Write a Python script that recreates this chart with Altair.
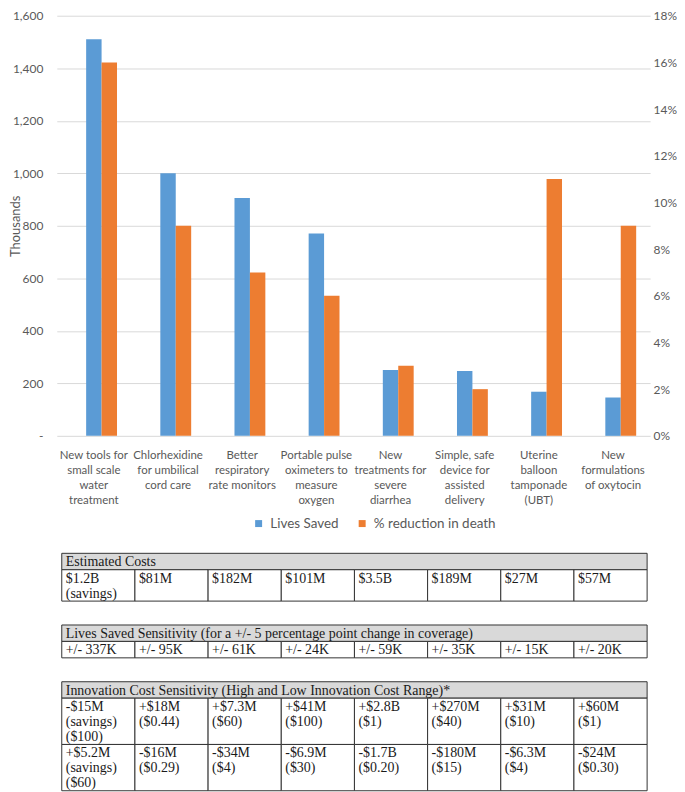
import altair as alt
import pandas as pd

# ---------------- data ----------------
categories = [
    "New tools for\nsmall scale\nwater\ntreatment",
    "Chlorhexidine\nfor umbilical\ncord care",
    "Better\nrespiratory\nrate monitors",
    "Portable pulse\noximeters to\nmeasure\noxygen",
    "New\ntreatments for\nsevere\ndiarrhea",
    "Simple, safe\ndevice for\nassisted\ndelivery",
    "Uterine\nballoon\ntamponade\n(UBT)",
    "New\nformulations\nof oxytocin",
]
lives_saved = [1510, 1000, 906, 771, 251, 247, 168, 146]          # thousands
pct_reduction = [0.16, 0.09, 0.07, 0.06, 0.03, 0.02, 0.11, 0.09]  # fraction
series_names = ["Lives Saved", "% reduction in death"]
left_ticks = [0, 200, 400, 600, 800, 1000, 1200, 1400, 1600]
right_ticks = [0, 0.02, 0.04, 0.06, 0.08, 0.10, 0.12, 0.14, 0.16, 0.18]

cost_header = "Estimated Costs"
cost_row = ["$1.2B\n(savings)", "$81M", "$182M", "$101M", "$3.5B", "$189M", "$27M", "$57M"]

sens_header = "Lives Saved Sensitivity (for a +/- 5 percentage point change in coverage)"
sens_row = ["+/- 337K", "+/- 95K", "+/- 61K", "+/- 24K", "+/- 59K", "+/- 35K", "+/- 15K", "+/- 20K"]

innov_header = "Innovation Cost Sensitivity (High and Low Innovation Cost Range)*"
innov_high = ["-$15M\n(savings)\n($100)", "+$18M\n($0.44)", "+$7.3M\n($60)", "+$41M\n($100)",
              "+$2.8B\n($1)", "+$270M\n($40)", "+$31M\n($10)", "+$60M\n($1)"]
innov_low = ["+$5.2M\n(savings)\n($60)", "-$16M\n($0.29)", "-$34M\n($4)", "-$6.9M\n($30)",
             "-$1.7B\n($0.20)", "-$180M\n($15)", "-$6.3M\n($4)", "-$24M\n($0.30)"]

# ---------------- style ----------------
BLUE = "#5B9BD5"
ORANGE = "#ED7D31"
GREY_TXT = "#595959"
FONT = "Lato"
SERIF = "Liberation Serif"
W = 596
H = 422

rows = []
for c, v, p in zip(categories, lives_saved, pct_reduction):
    rows.append({"category": c, "series": series_names[0], "value": v})
    rows.append({"category": c, "series": series_names[1], "value": p})
bars = pd.DataFrame(rows)

x_enc = alt.X(
    "category:N", sort=categories,
    scale=alt.Scale(paddingInner=0.376, paddingOuter=0.188),
    axis=alt.Axis(title=None, labelExpr="split(datum.label, '\\n')", labelAngle=0,
                  ticks=False, domain=False, labelPadding=14, labelFont=FONT,
                  labelFontSize=11.5, labelColor=GREY_TXT, labelLineHeight=15,
                  labelLimit=0, labelBaseline="top"),
)
xoff = alt.XOffset("series:N",
                   scale=alt.Scale(domain=[" "] + series_names, paddingInner=0, paddingOuter=0))
color = alt.Color(
    "series:N",
    scale=alt.Scale(domain=series_names, range=[BLUE, ORANGE]),
    legend=alt.Legend(orient="none", legendX=196, legendY=H + 81, direction="horizontal",
                      title=None, symbolType="square", symbolSize=49, labelFont=FONT,
                      labelFontSize=13.5, labelColor=GREY_TXT, columnPadding=16,
                      labelOffset=5, padding=0, symbolStrokeWidth=0),
)

left = alt.Chart(bars).transform_filter(alt.datum.series == series_names[0]).mark_bar().encode(
    x=x_enc, xOffset=xoff, color=color,
    y=alt.Y("value:Q", scale=alt.Scale(domain=[0, 1600], nice=False),
            axis=alt.Axis(values=left_ticks,
                          labelExpr="datum.value == 0 ? '-' : format(datum.value, ',')",
                          title="Thousands", titleX=-34, titleY=H / 2, titleAngle=270,
                          titleBaseline="bottom", titleFont=FONT, titleFontSize=13,
                          titleFontWeight="normal", titleColor=GREY_TXT,
                          grid=True, gridColor="#d9d9d9", ticks=False, domain=False,
                          labelPadding=14, labelFont=FONT, labelFontSize=12,
                          labelColor=GREY_TXT)),
)
right = alt.Chart(bars).transform_filter(alt.datum.series == series_names[1]).mark_bar().encode(
    x=x_enc, xOffset=xoff, color=color,
    y=alt.Y("value:Q", scale=alt.Scale(domain=[0, 0.18], nice=False),
            axis=alt.Axis(orient="right", values=right_ticks, format=".0%", title=None,
                          grid=False, ticks=False, domain=False, labelPadding=3,
                          labelFont=FONT, labelFontSize=12, labelColor=GREY_TXT)),
)
top_chart = alt.layer(left, right).resolve_scale(y="independent").properties(width=W, height=H)

LINE = 15
PAD = 0.1


def make_table(header, body_rows):
    cells = [dict(x0=0, x1=len(body_rows[0]), y0=0, y1=1 + PAD, text=header, kind="header")]
    y = 1 + PAD
    for r in body_rows:
        n = max(s.count("\n") + 1 for s in r)
        for i, s in enumerate(r):
            cells.append(dict(x0=i, x1=i + 1, y0=y, y1=y + n + PAD, text=s, kind="body"))
        y += n + PAD
    df = pd.DataFrame(cells)
    xs = alt.Scale(domain=[-0.068, 8.041], nice=False, zero=False)
    ys = alt.Scale(domain=[0, y], reverse=True, nice=False, zero=False)
    base = alt.Chart(df)
    rect = base.mark_rect(stroke="#333333", strokeWidth=1).encode(
        x=alt.X("x0:Q", scale=xs, axis=None), x2="x1",
        y=alt.Y("y0:Q", scale=ys, axis=None), y2="y1",
        fill=alt.Fill("kind:N", scale=alt.Scale(domain=["header", "body"],
                                                range=["#d9d9d9", "#ffffff"]), legend=None),
    )
    txt = base.mark_text(align="left", baseline="top", dx=4, dy=2, font=SERIF, fontSize=14,
                         lineBreak="\n", lineHeight=15, color="#1a1a1a").encode(
        x=alt.X("x0:Q", scale=xs, axis=None),
        y=alt.Y("y0:Q", scale=ys, axis=None),
        text="text:N",
    )
    return alt.layer(rect, txt).properties(width=W, height=y * LINE)


t1 = make_table(cost_header, [cost_row])
t2 = make_table(sens_header, [sens_row])
t3 = make_table(innov_header, [innov_high, innov_low])

chart = alt.vconcat(top_chart, t1, t2, t3, spacing=22).resolve_legend(
    color="independent").properties(
    padding={"left": 2, "top": 0, "right": 0, "bottom": 0}
).configure_view(stroke=None)

chart.save("out.html", embed_options={"renderer": "svg", "actions": False})
